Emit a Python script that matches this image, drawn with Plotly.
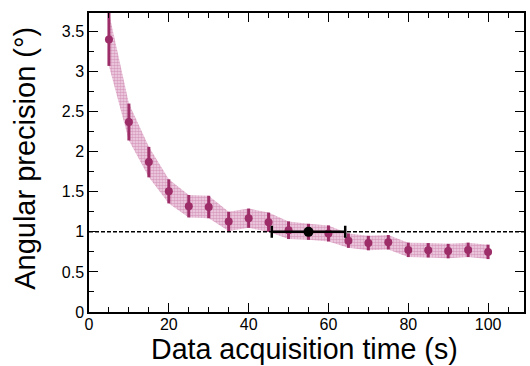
import plotly.graph_objects as go

times = [5, 10, 15, 20, 25, 30, 35, 40, 45, 50, 55, 60, 65, 70, 75, 80, 85, 90, 95, 100]
precision = [3.40, 2.37, 1.87, 1.505, 1.32, 1.31, 1.13, 1.17, 1.12, 1.02,
             1.00, 0.98, 0.89, 0.86, 0.87, 0.775, 0.77, 0.76, 0.775, 0.75]
precision_err = [0.33, 0.23, 0.19, 0.15, 0.14, 0.14, 0.12, 0.12, 0.12, 0.11,
                 0.10, 0.10, 0.09, 0.09, 0.09, 0.09, 0.09, 0.09, 0.09, 0.09]

ref_time = [55.0]
ref_precision = [1.0]
ref_time_err = [9.2]

reference_level = 1.0

purple = "#9c2d68"
upper = [v + e for v, e in zip(precision, precision_err)]
lower = [v - e for v, e in zip(precision, precision_err)]

fig = go.Figure()
fig.add_trace(go.Scatter(x=times, y=upper, mode="lines", line=dict(width=0),
                         showlegend=False, hoverinfo="skip"))
fig.add_trace(go.Scatter(x=times, y=lower, mode="lines", line=dict(width=0),
                         fill="tonexty", fillcolor="rgba(0,0,0,0)",
                         fillpattern=dict(shape=".", fgcolor="#c0649a",
                                          bgcolor="#f1d6e5", size=3, solidity=0.6),
                         showlegend=False, hoverinfo="skip"))
fig.add_hline(y=reference_level, line=dict(color="black", width=1.5, dash="4px,2px"))
fig.add_trace(go.Scatter(x=times, y=precision, mode="markers",
                         marker=dict(color=purple, size=8),
                         error_y=dict(type="data", array=precision_err, color=purple,
                                      thickness=3, width=0),
                         showlegend=False))
fig.add_trace(go.Scatter(x=ref_time, y=ref_precision, mode="markers",
                         marker=dict(color="black", size=10),
                         error_x=dict(type="data", array=ref_time_err, color="black",
                                      thickness=2.5, width=6),
                         showlegend=False))

axis_common = dict(showline=True, linecolor="black", linewidth=1.5, mirror="allticks",
                   ticks="inside", tickcolor="black", tickwidth=1.2, showgrid=False,
                   zeroline=False, tickfont=dict(size=16, color="black"))
fig.update_xaxes(range=[0, 109], dtick=20, tick0=0, ticklen=9, ticklabelstandoff=-3,
                 minor=dict(ticks="inside", dtick=5, ticklen=5, tickcolor="black"),
                 **axis_common)
fig.update_yaxes(range=[0, 3.73], dtick=0.5, tick0=0, ticklen=9,
                 minor=dict(ticks="inside", dtick=0.25, ticklen=5, tickcolor="black"),
                 **axis_common)

fig.update_layout(
    width=530, height=366,
    margin=dict(l=89, r=4, t=13, b=54),
    paper_bgcolor="white", plot_bgcolor="white",
    font=dict(family="Liberation Sans, Arial, sans-serif", color="black"),
    annotations=[
        dict(text="Data acquisition time (s)", xref="paper", yref="paper",
             x=0.495, y=-0.124, xanchor="center", yanchor="middle",
             showarrow=False, font=dict(size=28.6)),
        dict(text="Angular precision (°)", xref="paper", yref="paper",
             x=-0.146, y=0.514, xanchor="center", yanchor="middle", textangle=-90,
             showarrow=False, font=dict(size=29)),
    ],
)
page_fix = "document.body.style.margin='0';document.body.style.padding='0';"
fig.write_html("out.html", post_script=page_fix, config={"displayModeBar": False})
